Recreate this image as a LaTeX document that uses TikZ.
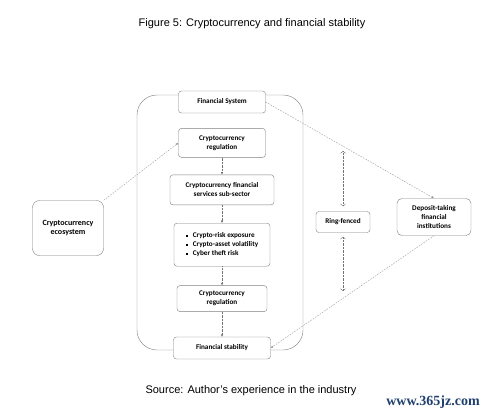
\documentclass[tikz,border=0pt]{standalone}
\usepackage{fontspec}
\setmainfont{Liberation Sans}
\newfontfamily\calibri{Carlito}
\newfontfamily\wmfont{Liberation Serif}
\usepackage{tikz}
\usetikzlibrary{arrows.meta,positioning}
\definecolor{boxgrey}{HTML}{7F7F7F}
\definecolor{linegrey}{HTML}{9A9A9A}
\definecolor{wmblue}{HTML}{1F3F6E}

\newcommand{\sqbullet}{\rule[0.8pt]{2pt}{2pt}\hspace{5pt}}

\begin{document}
\begin{tikzpicture}[
        x=1pt, y=-1pt,
        node distance=15pt,
        stagebox/.style={
          draw=boxgrey,
          fill=white,
          rounded corners=3pt,
          align=center,
          inner sep=2pt,
          font=\calibri\bfseries\fontsize{7.2}{8.8}\selectfont
        },
        flowarrow/.style={-{Latex[length=2.5pt,width=2.4pt]}, densely dotted, draw=black!55},
        linkarrow/.style={-{Latex[length=2.5pt,width=2.4pt]}, dash pattern=on 1.6pt off 1.2pt, draw=linegrey}
      ]
        \useasboundingbox (0,0) rectangle (502,412);

        % outer frame of the financial system
        \draw[boxgrey] [rounded corners=20pt] (137,95) rectangle (303,350);

        \node[font=\fontsize{11}{13}\selectfont] (title) at (252,24) {Figure 5: Cryptocurrency and financial stability};

        \node[stagebox, minimum width=87pt, minimum height=22pt] (fsys) at (222,102) {Financial System};
        \node[stagebox, below=15pt of fsys, minimum width=87pt, minimum height=29pt] (reg1) {Cryptocurrency\\regulation};
        \node[stagebox, below=17pt of reg1, minimum width=104pt, minimum height=30pt] (serv) {Cryptocurrency financial\\services sub-sector};
        \node[stagebox, below=18pt of serv, minimum width=96pt, minimum height=43pt, align=left] (risk) {\sqbullet Crypto-risk exposure\\\sqbullet Crypto-asset volatility\\\sqbullet Cyber theft risk};
        \node[stagebox, below=19pt of risk, minimum width=90pt, minimum height=26pt] (reg2) {Cryptocurrency\\regulation};
        \node[stagebox, below=25pt of reg2, minimum width=97pt, minimum height=22pt] (stab) {Financial stability};

        \node[stagebox, rounded corners=7pt, minimum width=71pt, minimum height=55pt, font=\calibri\bfseries\fontsize{8}{9.8}\selectfont] (eco) at (68,228) {Cryptocurrency\\ecosystem};
        \node[stagebox, minimum width=54pt, minimum height=21pt] (ring) at (343,222) {Ring-fenced};
        \node[stagebox, rounded corners=5pt, minimum width=74pt, minimum height=37pt] (dep) at (434,217) {Deposit-taking\\financial\\institutions};

        \coordinate (ringhi) at (343,151);
        \coordinate (ringlo) at (343,291);

        \draw[flowarrow] (reg1) -- (serv);
        \draw[flowarrow] (serv) -- (risk);
        \draw[flowarrow] (risk) -- (reg2);
        \draw[flowarrow] (reg2) -- (stab);

        \draw[flowarrow, <->, shorten >=5pt] (ringhi) -- (ring.north);
        \draw[flowarrow, <->, shorten >=4pt] (ringlo) -- (ring.south);

        \draw[linkarrow] (eco.north east) -- (reg1.west);
        \draw[linkarrow] (fsys.east) -- (dep.north);
        \draw[linkarrow] (dep.south) -- (stab.east);

        \node[font=\fontsize{11}{13}\selectfont] (source) at (251,391) {Source: Author's experience in the industry};
        \node[font=\wmfont\bfseries\fontsize{14}{16}\selectfont, text=wmblue] (mark) at (433,402) {www.365jz.com};
      \end{tikzpicture}
\end{document}
